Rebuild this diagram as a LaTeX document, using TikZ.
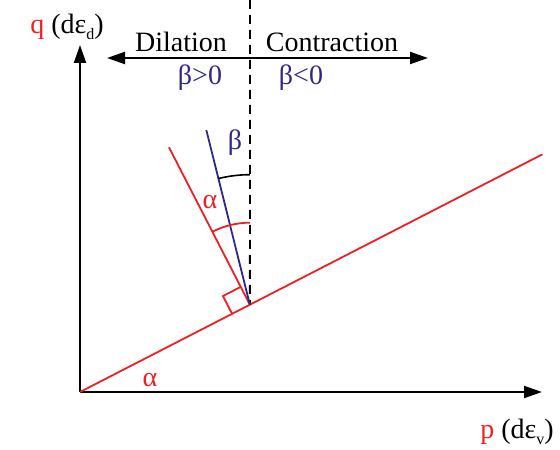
\documentclass[tikz,border=0pt]{standalone}
\usepackage{fontspec}
\setmainfont{Liberation Serif}
\usetikzlibrary{arrows.meta,calc}
\definecolor{lred}{RGB}{237,32,36}
\definecolor{lblue}{RGB}{46,40,140}
\newcommand{\lowsub}[1]{\raisebox{-0.45ex}{\fontsize{8}{9}\selectfont #1}}

\begin{document}
\begin{tikzpicture}[x=0.5pt,y=0.5pt,>={Triangle[length=9pt,width=6pt]},axis/.style={->, line width=1pt},redline/.style={lred, line width=0.9pt},blueline/.style={lblue, line width=0.9pt},dashline/.style={dashed, dash pattern=on 4.5pt off 3pt, line width=0.9pt},label/.style={font=\fontsize{14}{16}\selectfont, inner sep=1pt}]
\useasboundingbox (0,0) rectangle (560,449);
\coordinate (O) at (80,57); \coordinate (Q) at (80,404); \coordinate (P) at (542,57);
\coordinate (F) at ($(O)+(27.2:191)$); \coordinate (E) at ($(O)+(27.2:520)$);
\coordinate (N) at ($(F)+(117.2:177)$); \coordinate (B) at ($(F)+(104:180)$);
\coordinate (T) at (250,449);
\coordinate (L) at (107,391); \coordinate (R) at (428,391);
% axes
\draw[axis] (O) -- (Q);
\draw[axis] (O) -- (P);
\node[label] (qlab) at (67,422) {{\color{lred}q} (dε\lowsub{d})};
\node[label] (plab) at (517,17) {{\color{lred}p} (dε\lowsub{v})};
% dilation / contraction
\draw[dashline] (T) -- (F);
\draw[<->, line width=1pt] (L) -- (R);
\node[label] (dil) at (181,407) {Dilation};
\node[label] (con) at (332,407) {Contraction};
\node[label, text=lblue] (bpos) at (200,371) {β>0};
\node[label, text=lblue] (bneg) at (301,371) {β<0};
% lines
\draw[redline] (O) -- (E);
\draw[redline] (F) -- (N);
\draw[blueline] (F) -- (B);
\draw[redline] ($(F)+(207.2:20)$) -- ++(117.2:20) -- ++(27.2:20);
% angles
\draw[redline] ($(F)+(90:82)$) arc (90:117.2:82);
\draw[line width=0.8pt] ($(F)+(90:130)$) arc (90:104:130);
\node[label, text=lred] (a1) at (210,247) {α};
\node[label, text=lblue] (b1) at (235,306) {β};
\node[label, text=lred] (a2) at (150,69) {α};
\end{tikzpicture}
\end{document}
